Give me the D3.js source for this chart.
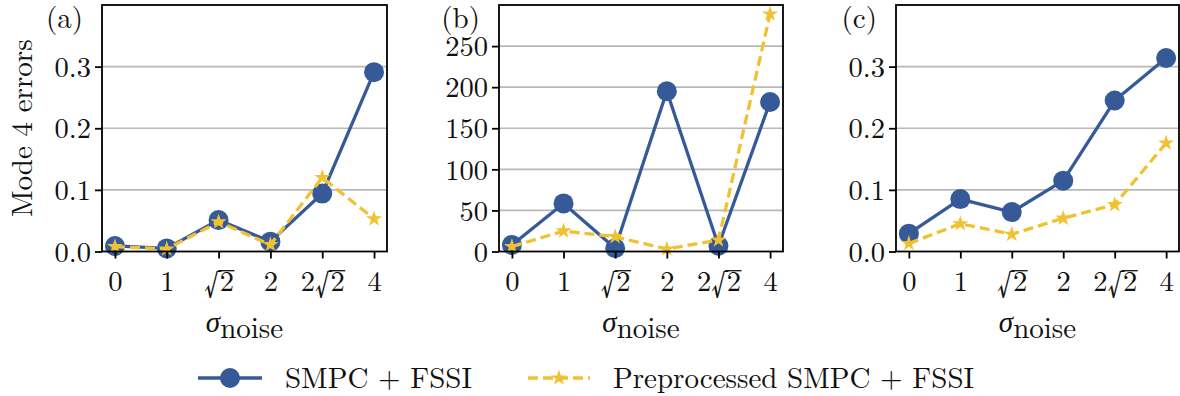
<!DOCTYPE html>
<html>
<head>
<meta charset="utf-8">
<script src="https://cdn.jsdelivr.net/npm/d3@7"></script>
</head>
<body style="margin:0;padding:0;background:#fff">
<svg id="chart" width="1180" height="396" style="display:block"></svg>
<script>
// ---------- data ----------
const categories = ["0", "1", "√2", "2", "2√2", "4"];
const seriesNames = ["SMPC + FSSI", "Preprocessed SMPC + FSSI"];
const panelLabels = ["(a)", "(b)", "(c)"];

const smpcA = [0.009, 0.005, 0.051, 0.016, 0.094, 0.291];
const prepA = [0.008, 0.004, 0.048, 0.011, 0.120, 0.053];
const smpcB = [8, 58.5, 4, 195, 7, 182];
const prepB = [6, 25, 18, 3, 14, 289];
const smpcC = [0.029, 0.085, 0.064, 0.115, 0.245, 0.314];
const prepC = [0.013, 0.045, 0.028, 0.054, 0.076, 0.176];

const yTicksA = [0.0, 0.1, 0.2, 0.3];
const yTicksB = [0, 50, 100, 150, 200, 250];
const yTicksC = [0.0, 0.1, 0.2, 0.3];
const yMaxA = 0.4, yMaxB = 300, yMaxC = 0.4;

const yLabel = "Mode 4 errors";

// ---------- style ----------
const BLUE = "#355a97";
const YELLOW = "#f0c232";
const GRID = "#b8b8b8";
const FONT = '"Latin Modern Roman", "CMU Serif", "Liberation Serif", serif';
const FS = 28.5;
const FL = 29;

const svg = d3.select("#chart");
const plotTop = 5, plotBottom = 251.5;

function styleText(sel, size) {
  return sel.style("font-family", FONT).style("font-size", size + "px").style("fill", "#111");
}

const panels = [
  { left: 102, right: 387, smpc: smpcA, prep: prepA, ticks: yTicksA, ymax: yMaxA, fmt: d3.format(".1f"), label: panelLabels[0], ylabel: true },
  { left: 499, right: 783, smpc: smpcB, prep: prepB, ticks: yTicksB, ymax: yMaxB, fmt: d3.format("d"), label: panelLabels[1], ylabel: false },
  { left: 896, right: 1179, smpc: smpcC, prep: prepC, ticks: yTicksC, ymax: yMaxC, fmt: d3.format(".1f"), label: panelLabels[2], ylabel: false }
];

const star = d3.symbol().type(d3.symbolStar).size(80);

panels.forEach(p => {
  const g = svg.append("g");
  const x = d3.scaleLinear().domain([-0.25, categories.length - 0.75]).range([p.left, p.right]);
  const y = d3.scaleLinear().domain([0, p.ymax]).range([plotBottom, plotTop]);
  const idx = categories.map((c, i) => i);

  // grid
  g.selectAll(".grid").data(p.ticks.filter(t => t > 0)).join("line")
    .attr("x1", p.left).attr("x2", p.right)
    .attr("y1", d => y(d)).attr("y2", d => y(d))
    .attr("stroke", GRID).attr("stroke-width", 1.6);

  // series 1
  const line = d3.line().x((d, i) => x(i)).y(d => y(d));
  g.append("path").datum(p.smpc).attr("d", line)
    .attr("fill", "none").attr("stroke", BLUE).attr("stroke-width", 3.3)
    .attr("stroke-linejoin", "round");
  g.selectAll(".c").data(p.smpc).join("circle")
    .attr("cx", (d, i) => x(i)).attr("cy", d => y(d)).attr("r", 10)
    .attr("fill", BLUE);

  // series 2
  g.append("path").datum(p.prep).attr("d", line)
    .attr("fill", "none").attr("stroke", YELLOW).attr("stroke-width", 3.3)
    .attr("stroke-dasharray", "10,5");
  g.selectAll(".s").data(p.prep).join("path")
    .attr("d", star)
    .attr("transform", (d, i) => `translate(${x(i)},${y(d)})`)
    .attr("fill", YELLOW);

  // frame
  g.append("rect").attr("x", p.left).attr("y", plotTop)
    .attr("width", p.right - p.left).attr("height", plotBottom - plotTop)
    .attr("fill", "none").attr("stroke", "#000").attr("stroke-width", 1.8);

  // y axis
  const ya = g.append("g").attr("transform", `translate(${p.left},0)`)
    .call(d3.axisLeft(y).tickValues(p.ticks).tickFormat(p.fmt).tickSize(7).tickPadding(4));
  ya.select(".domain").remove();
  ya.selectAll("line").attr("stroke", "#000").attr("stroke-width", 1.8);
  styleText(ya.selectAll("text"), FS).attr("dy", "0.34em");

  // x axis
  const xa = g.append("g").attr("transform", `translate(0,${plotBottom})`)
    .call(d3.axisBottom(x).tickValues(idx).tickFormat(i => categories[i]).tickSize(7).tickPadding(6));
  xa.select(".domain").remove();
  xa.selectAll("line").attr("stroke", "#000").attr("stroke-width", 1.8);
  styleText(xa.selectAll("text"), FS).attr("dy", null).attr("y", 39);
  // radicals: larger sign dropped below baseline, with an overline (vinculum)
  xa.selectAll("text").each(function () {
    const t = this.textContent;
    const k = t.indexOf("√");
    if (k < 0) return;
    const txt = d3.select(this).text(null);
    if (k > 0) txt.append("tspan").text(t.slice(0, k));
    txt.append("tspan").style("font-size", "33px").attr("dy", 4).text("√");
    txt.append("tspan").attr("dy", -4).text(t.slice(k + 1));
    const r1 = this.getExtentOfChar(k);
    const r2 = this.getExtentOfChar(t.length - 1);
    d3.select(this.parentNode).append("line")
      .attr("x1", r1.x + r1.width - 1.5).attr("x2", r2.x + r2.width + 0.5)
      .attr("y1", 19.2).attr("y2", 19.2)
      .attr("stroke", "#111").attr("stroke-width", 1.3);
  });

  // x label
  const cx = (p.left + p.right) / 2;
  const xl = styleText(g.append("text"), FL).attr("x", cx).attr("y", 332).attr("text-anchor", "middle");
  xl.append("tspan").style("font-style", "italic").text("σ");
  xl.append("tspan").attr("dy", 6).text("noise");

  // panel label
  styleText(g.append("text"), FL).attr("x", p.left - 19).attr("y", 28).attr("text-anchor", "end").text(p.label);

  if (p.ylabel) {
    styleText(g.append("text"), FL)
      .attr("transform", `translate(32,${(plotTop + plotBottom) / 2}) rotate(-90)`)
      .attr("text-anchor", "middle").text(yLabel);
  }
});

// ---------- legend ----------
const lg = svg.append("g");
const ly = 378;
lg.append("line").attr("x1", 198).attr("x2", 262).attr("y1", ly).attr("y2", ly)
  .attr("stroke", BLUE).attr("stroke-width", 3.3);
lg.append("circle").attr("cx", 230).attr("cy", ly).attr("r", 10).attr("fill", BLUE);
styleText(lg.append("text"), FL).attr("x", 285).attr("y", ly + 10).text(seriesNames[0]);

lg.append("line").attr("x1", 528).attr("x2", 590).attr("y1", ly).attr("y2", ly)
  .attr("stroke", YELLOW).attr("stroke-width", 3.3).attr("stroke-dasharray", "10,5");
lg.append("path").attr("d", star).attr("transform", `translate(559,${ly})`).attr("fill", YELLOW);
styleText(lg.append("text"), FL).attr("x", 613).attr("y", ly + 10).text(seriesNames[1]);
</script>
</body>
</html>
